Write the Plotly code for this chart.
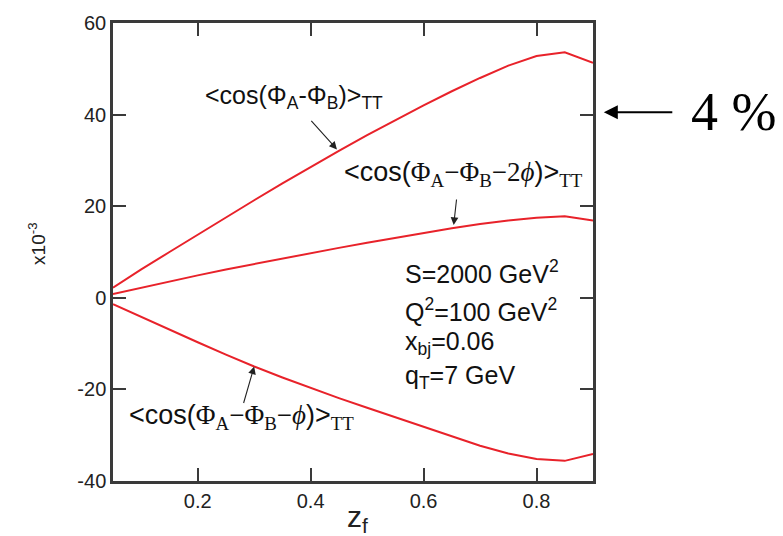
import plotly.graph_objects as go

# z_f grid and the three azimuthal asymmetries (in units of 10^-3)
z_f = [0.05, 0.10, 0.15, 0.20, 0.25, 0.30, 0.35, 0.40, 0.45,
       0.50, 0.55, 0.60, 0.65, 0.70, 0.75, 0.80, 0.85, 0.90]
cos_ab = [2.2, 6.2, 10.0, 13.8, 17.6, 21.3, 25.0, 28.6, 32.1,
          35.5, 38.8, 42.0, 45.1, 48.0, 50.7, 52.8, 53.6, 51.3]
cos_ab_2phi = [0.8, 2.2, 3.6, 4.9, 6.2, 7.4, 8.6, 9.8, 10.9,
               12.0, 13.1, 14.2, 15.2, 16.1, 16.9, 17.5, 17.8, 16.9]
cos_ab_phi = [-1.4, -4.2, -7.0, -9.7, -12.4, -15.0, -17.4, -19.7, -21.9,
              -24.0, -26.1, -28.2, -30.3, -32.3, -34.0, -35.2, -35.6, -34.1]

x_ticks = [0.2, 0.4, 0.6, 0.8]
y_ticks = [-40, -20, 0, 20, 40, 60]

RED = "#e8222a"
AXIS = "#3a3a3a"
SANS = "Arial, Liberation Sans, sans-serif"
SERIF = "Liberation Serif"


def serif(s):
    return f'<span style="font-family:{SERIF}">{s}</span>'


fig = go.Figure()
for ys in (cos_ab, cos_ab_2phi, cos_ab_phi):
    fig.add_trace(go.Scatter(x=z_f, y=ys, mode="lines",
                             line=dict(color=RED, width=2), showlegend=False,
                             hoverinfo="skip"))

label_ab = "&lt;cos(Φ<sub>A</sub>-Φ<sub>B</sub>)&gt;<sub>TT</sub>"
label_2phi = ("&lt;cos(" + serif("Φ") + "<sub>" + serif("A") + "</sub>"
              + serif("−Φ") + "<sub>" + serif("B") + "</sub>"
              + serif("−2<i>ϕ</i>") + ")&gt;<sub>" + serif("TT") + "</sub>")
label_phi = ("&lt;cos(" + serif("Φ") + "<sub>" + serif("A") + "</sub>"
             + serif("−Φ") + "<sub>" + serif("B") + "</sub>"
             + serif("−<i>ϕ</i>") + ")&gt;<sub>" + serif("TT") + "</sub>")

kin_font = dict(family=SANS, size=25, color="#111")

annotations = [
    # curve labels
    dict(x=0.2095, y=43.9, text=label_ab, xanchor="left", yanchor="middle",
         showarrow=False, font=dict(family=SANS, size=25, color="#111")),
    dict(x=0.4554, y=27.1, text=label_2phi, xanchor="left", yanchor="middle",
         showarrow=False, font=dict(family=SANS, size=27, color="#111")),
    dict(x=0.0743, y=-26.0, text=label_phi, xanchor="left", yanchor="middle",
         showarrow=False, font=dict(family=SANS, size=27, color="#111")),
    # pointer arrows
    dict(x=0.4466, y=32.4, text="", showarrow=True, ax=-27, ay=-30,
         arrowhead=2, arrowsize=1.4, arrowwidth=1.1, arrowcolor="#222"),
    dict(x=0.6533, y=15.9, text="", showarrow=True, ax=3, ay=-27,
         arrowhead=2, arrowsize=1.4, arrowwidth=1.1, arrowcolor="#222"),
    dict(x=0.300, y=-15.0, text="", showarrow=True, ax=-11, ay=38,
         arrowhead=2, arrowsize=1.4, arrowwidth=1.1, arrowcolor="#222"),
    # kinematics
    dict(x=0.564, y=5.6, text="S=2000 GeV<sup>2</sup>", xanchor="left",
         yanchor="middle", showarrow=False, font=kin_font),
    dict(x=0.564, y=-2.6, text="Q<sup>2</sup>=100 GeV<sup>2</sup>", xanchor="left",
         yanchor="middle", showarrow=False, font=kin_font),
    dict(x=0.564, y=-9.8, text="x<sub>bj</sub>=0.06", xanchor="left",
         yanchor="middle", showarrow=False, font=kin_font),
    dict(x=0.564, y=-17.4, text="q<sub>T</sub>=7 GeV", xanchor="left",
         yanchor="middle", showarrow=False, font=kin_font),
    # 4 % marker outside the frame
    dict(xref="paper", x=1.0225, y=40.5, text="", showarrow=True,
         axref="pixel", ax=70, ay=0, arrowhead=2, arrowsize=1.4,
         arrowwidth=2, arrowcolor="#000"),
    dict(xref="paper", x=1.20, y=40.5, text="4 %", xanchor="left",
         yanchor="middle", showarrow=False,
         font=dict(family=SERIF, size=54, color="#000")),
    # axis titles
    dict(xref="paper", yref="paper", x=-0.158, y=0.518, text="x10<sup>-3</sup>",
         textangle=-90, showarrow=False, xanchor="center", yanchor="middle",
         font=dict(family=SANS, size=19, color="#222")),
    dict(xref="paper", yref="paper", x=0.509, y=-0.082, text="z<sub>f</sub>",
         showarrow=False, xanchor="center", yanchor="middle",
         font=dict(family=SANS, size=30, color="#222")),
]

axis_common = dict(showline=True, linecolor=AXIS, linewidth=2.5, mirror="ticks",
                   ticks="inside", ticklen=13, tickwidth=2, tickcolor=AXIS,
                   showgrid=False, zeroline=False,
                   tickfont=dict(family=SANS, size=20, color="#222"))

fig.update_layout(
    width=783, height=536,
    margin=dict(l=113, r=190, t=16, b=55),
    paper_bgcolor="white", plot_bgcolor="white",
    xaxis=dict(range=[0.05, 0.9], tickvals=x_ticks,
               ticktext=[f"{v:.1f}" for v in x_ticks], **axis_common),
    yaxis=dict(range=[-40, 60], tickvals=y_ticks,
               ticktext=[str(v) for v in y_ticks], **axis_common),
    annotations=annotations,
)

fig.write_html("out.html")
